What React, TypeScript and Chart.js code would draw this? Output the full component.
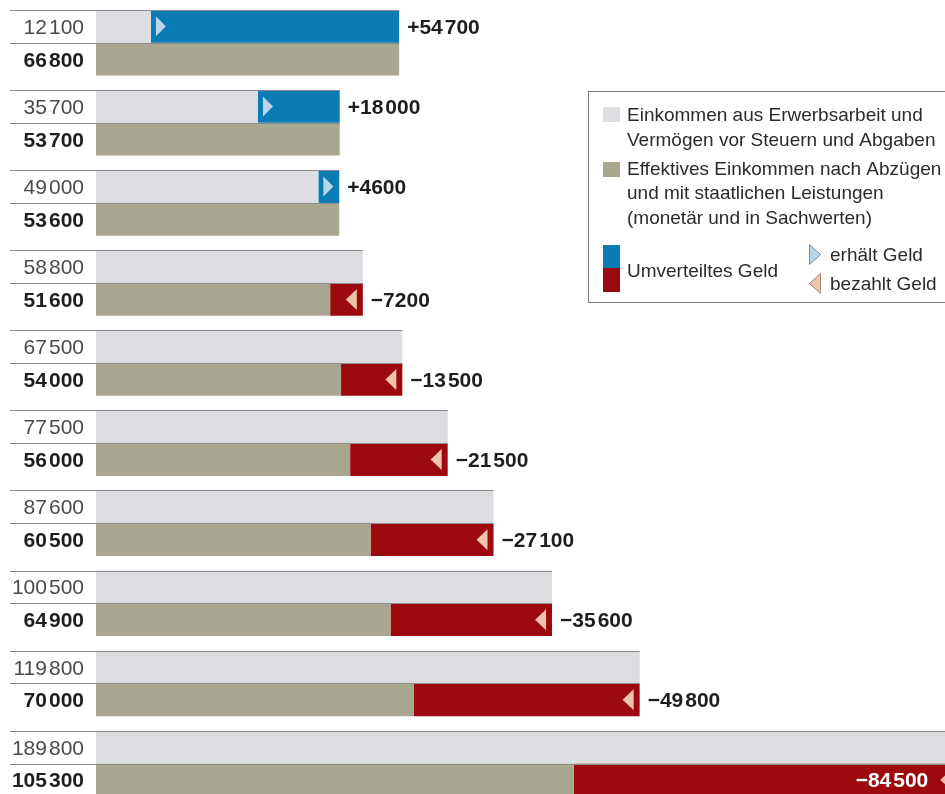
import React, { useEffect, useRef } from "react";
import { Chart, registerables } from "chart.js";

Chart.register(...registerables);

// Income groups (deciles, poorest at top)
const groups = ["1", "2", "3", "4", "5", "6", "7", "8", "9", "10"];
// Income from work and assets before taxes and levies
const preTax = [12100, 35700, 49000, 58800, 67500, 77500, 87600, 100500, 119800, 189800];
// Effective income after deductions and with state benefits
const effective = [66800, 53700, 53600, 51600, 54000, 56000, 60500, 64900, 70000, 105300];
// Redistributed money (+ receives, − pays)
const redistributed = [54700, 18000, 4600, -7200, -13500, -21500, -27100, -35600, -49800, -84500];

const legendPre = ["Einkommen aus Erwerbsarbeit und", "Vermögen vor Steuern und Abgaben"];
const legendEff = [
  "Effektives Einkommen nach Abzügen",
  "und mit staatlichen Leistungen",
  "(monetär und in Sachwerten)",
];
const legendRedistributed = "Umverteiltes Geld";
const legendReceives = "erhält Geld";
const legendPays = "bezahlt Geld";

const C_PRE = "#dcdde0";
const C_EFF = "#a9a790";
const C_BLUE = "#0a7bb5";
const C_RED = "#9c0a10";
const C_TRI_BLUE = "#bad6ea";
const C_TRI_RED = "#f1c3ac";
const FONT = "'Liberation Sans', Arial, sans-serif";

function splitNum(v: number): string[] {
  const s = String(Math.abs(v));
  if (s.length >= 5) return [s.slice(0, s.length - 3), s.slice(s.length - 3)];
  return [s];
}

function measureNum(ctx: CanvasRenderingContext2D, prefix: string, v: number, gap: number) {
  const parts = splitNum(v);
  let w = ctx.measureText(prefix + parts[0]).width;
  if (parts.length > 1) w += gap + ctx.measureText(parts[1]).width;
  return w;
}

function drawNum(
  ctx: CanvasRenderingContext2D,
  prefix: string,
  v: number,
  x: number,
  y: number,
  align: "left" | "right",
  gap = 2
) {
  const parts = splitNum(v);
  const w = measureNum(ctx, prefix, v, gap);
  let cx = align === "left" ? x : x - w;
  ctx.textAlign = "left";
  ctx.fillText(prefix + parts[0], cx, y);
  cx += ctx.measureText(prefix + parts[0]).width;
  if (parts.length > 1) {
    cx += gap;
    ctx.fillText(parts[1], cx, y);
  }
}

const overlayPlugin = {
  id: "overlay",
  afterDatasetsDraw(chart: any) {
    const ctx: CanvasRenderingContext2D = chart.ctx;
    const xs = chart.scales.x;
    const metaPre = chart.getDatasetMeta(0);
    const metaEff = chart.getDatasetMeta(2);
    ctx.save();
    groups.forEach((_, i) => {
      const topEl = metaPre.data[i];
      const botEl = metaEff.data[i];
      const h = topEl.height;
      const cyTop = topEl.y;
      const cyBot = botEl.y;
      const yTopLine = cyTop - h / 2;
      const yMid = cyTop + h / 2;
      const xEnd = xs.getPixelForValue(Math.max(preTax[i], effective[i]));

      // horizontal rules
      ctx.strokeStyle = "#8a8a8a";
      ctx.lineWidth = 1.2;
      ctx.beginPath();
      ctx.moveTo(10, Math.round(yTopLine) + 0.5);
      ctx.lineTo(xEnd, Math.round(yTopLine) + 0.5);
      ctx.moveTo(10, Math.round(yMid) + 0.5);
      ctx.lineTo(xEnd, Math.round(yMid) + 0.5);
      ctx.stroke();

      // left labels
      ctx.textBaseline = "alphabetic";
      ctx.font = `21px ${FONT}`;
      ctx.fillStyle = "#4a4a4a";
      drawNum(ctx, "", preTax[i], 84, cyTop + 7.5, "right");
      ctx.font = `bold 21px ${FONT}`;
      ctx.fillStyle = "#1e1e1e";
      drawNum(ctx, "", effective[i], 84, cyBot + 7.5, "right");

      const r = redistributed[i];
      if (r > 0) {
        const x0 = xs.getPixelForValue(preTax[i]) + 5;
        ctx.fillStyle = C_TRI_BLUE;
        ctx.beginPath();
        ctx.moveTo(x0, cyTop - 10);
        ctx.lineTo(x0 + 10, cyTop);
        ctx.lineTo(x0, cyTop + 10);
        ctx.closePath();
        ctx.fill();
        ctx.font = `bold 21px ${FONT}`;
        ctx.fillStyle = "#1e1e1e";
        drawNum(ctx, "+", r, xs.getPixelForValue(effective[i]) + 8, cyTop + 7.5, "left");
      } else if (r < 0) {
        const xr = xs.getPixelForValue(preTax[i]) - 6;
        ctx.fillStyle = C_TRI_RED;
        ctx.beginPath();
        ctx.moveTo(xr, cyBot - 10.5);
        ctx.lineTo(xr - 11, cyBot);
        ctx.lineTo(xr, cyBot + 10.5);
        ctx.closePath();
        ctx.fill();
        ctx.font = `bold 21px ${FONT}`;
        const w = measureNum(ctx, "\u2212", r, 2);
        const xl = xs.getPixelForValue(preTax[i]) + 8;
        if (xl + w > chart.width) {
          ctx.fillStyle = "#ffffff";
          drawNum(ctx, "\u2212", r, xr - 11 - 12, cyBot + 7.5, "right");
        } else {
          ctx.fillStyle = "#1e1e1e";
          drawNum(ctx, "\u2212", r, xl, cyBot + 7.5, "left");
        }
      }
    });
    ctx.restore();
  },
  afterDraw(chart: any) {
    const ctx: CanvasRenderingContext2D = chart.ctx;
    ctx.save();
    // legend box
    ctx.fillStyle = "#ffffff";
    ctx.fillRect(588, 91, 400, 212);
    ctx.strokeStyle = "#7a7a7a";
    ctx.lineWidth = 1;
    ctx.strokeRect(588.5, 91.5, 400, 211);

    ctx.fillStyle = C_PRE;
    ctx.fillRect(603, 107, 17, 15);
    ctx.fillStyle = C_EFF;
    ctx.fillRect(603, 162, 17, 15);
    ctx.fillStyle = C_BLUE;
    ctx.fillRect(603, 245, 17, 23);
    ctx.fillStyle = C_RED;
    ctx.fillRect(603, 268, 17, 24);

    // triangles
    ctx.lineWidth = 1;
    ctx.fillStyle = C_TRI_BLUE;
    ctx.strokeStyle = "#6f8ea6";
    ctx.beginPath();
    ctx.moveTo(809.5, 244.5);
    ctx.lineTo(820.5, 254.5);
    ctx.lineTo(809.5, 264.5);
    ctx.closePath();
    ctx.fill();
    ctx.stroke();
    ctx.fillStyle = C_TRI_RED;
    ctx.strokeStyle = "#a98474";
    ctx.beginPath();
    ctx.moveTo(820.5, 273.5);
    ctx.lineTo(809.5, 283.5);
    ctx.lineTo(820.5, 293.5);
    ctx.closePath();
    ctx.fill();
    ctx.stroke();

    ctx.fillStyle = "#2b2b2b";
    ctx.font = `19px ${FONT}`;
    ctx.textAlign = "left";
    ctx.textBaseline = "alphabetic";
    ctx.fillText(legendPre[0], 627, 121);
    ctx.fillText(legendPre[1], 627, 146);
    ctx.fillText(legendEff[0], 627, 175);
    ctx.fillText(legendEff[1], 627, 199);
    ctx.fillText(legendEff[2], 627, 224);
    ctx.fillText(legendRedistributed, 627, 277);
    ctx.fillText(legendReceives, 830, 261);
    ctx.fillText(legendPays, 830, 290);
    ctx.restore();
  },
};

export default function App() {
  const ref = useRef<HTMLCanvasElement | null>(null);
  useEffect(() => {
    document.body.style.margin = "0";
    if (!ref.current) return;
    const common = {
      categoryPercentage: 0.818,
      barPercentage: 1,
      borderWidth: 0,
      inflateAmount: 0,
      clip: false as any,
    };
    const chart = new Chart(ref.current, {
      type: "bar",
      data: {
        labels: groups,
        datasets: [
          { ...common, label: "pre", data: preTax, backgroundColor: C_PRE, stack: "top" },
          {
            ...common,
            label: "gain",
            data: preTax.map((p, i) => (redistributed[i] > 0 ? [p, effective[i]] : null)) as any,
            backgroundColor: C_BLUE,
            stack: "top",
          },
          { ...common, label: "eff", data: effective, backgroundColor: C_EFF, stack: "bottom" },
          {
            ...common,
            label: "loss",
            data: preTax.map((p, i) => (redistributed[i] < 0 ? [effective[i], p] : null)) as any,
            backgroundColor: C_RED,
            stack: "bottom",
          },
        ],
      },
      options: {
        indexAxis: "y",
        responsive: false,
        animation: false,
        layout: { padding: { left: 96, right: 0, top: 42.75, bottom: 30.5 } },
        scales: {
          x: { type: "linear", min: 0, max: 187090, display: false, stacked: false },
          y: { type: "category", offset: false, display: false, grid: { offset: false } },
        },
        plugins: { legend: { display: false }, tooltip: { enabled: false } },
      },
      plugins: [overlayPlugin],
    });
    return () => chart.destroy();
  }, []);
  return (
    <div style={{ width: 945, height: 794, overflow: "hidden" }}>
      <canvas ref={ref} width={945} height={794} style={{ display: "block" }} />
    </div>
  );
}
